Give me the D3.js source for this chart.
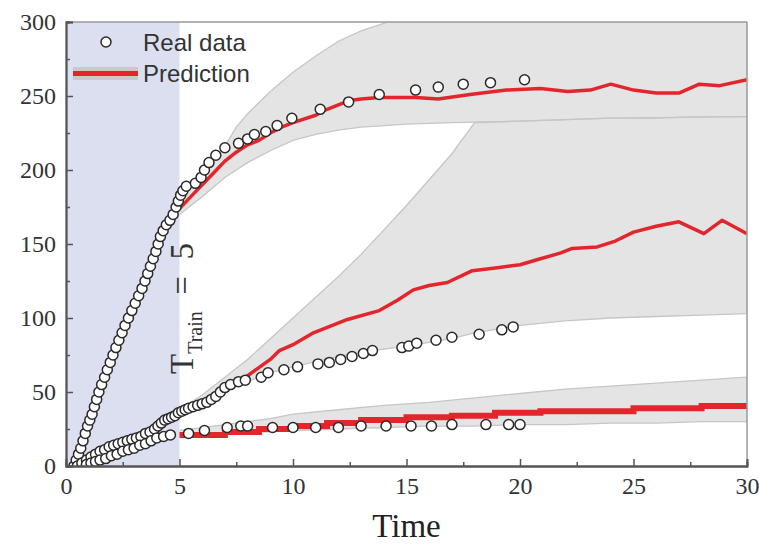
<!DOCTYPE html>
<html><head><meta charset="utf-8">
<script src="https://cdn.jsdelivr.net/npm/d3@7"></script>
<style>html,body{margin:0;padding:0;background:#fff;}svg{display:block;}</style>
</head><body><svg id="c" width="759" height="547"></svg>
<script>
// ---------------- data ----------------
const xTicks = [0,5,10,15,20,25,30];
const yTicks = [0,50,100,150,200,250,300];
const trainEnd = 5;

// Real data (t, value)
const realA = [[0.35,0],[0.45,4],[0.55,8],[0.65,12],[0.75,17],[0.85,22],[0.95,27],[1.05,31],[1.15,35],[1.25,40],[1.35,45],[1.45,50],[1.57,55],[1.7,60],[1.82,65],[1.95,70],[2.07,75],[2.2,80],[2.33,85],[2.47,90],[2.6,95],[2.75,100],[2.9,105],[3.05,110],[3.2,115],[3.35,120],[3.48,125],[3.6,130],[3.72,135],[3.84,140],[3.96,145],[4.06,150],[4.16,155],[4.28,159],[4.42,163],[4.58,166],[4.72,170],[4.85,175],[4.95,179],[5.05,183],[5.15,186],[5.3,189],[5.7,191],[5.95,195],[6.1,200],[6.3,205],[6.6,210],[7.0,215],[7.6,218],[8.0,221],[8.3,224],[8.8,226],[9.3,230],[9.95,235],[11.2,241],[12.45,246],[13.8,251],[15.4,254],[16.4,256],[17.5,258],[18.7,259],[20.2,261]];
const realB = [[0.5,0],[0.7,2],[0.9,4],[1.1,6],[1.3,8],[1.5,10],[1.7,11],[1.9,13],[2.1,14],[2.3,15],[2.5,16],[2.7,17],[2.9,18],[3.1,19],[3.3,20],[3.5,22],[3.7,23],[3.9,25],[4.05,27],[4.2,29],[4.35,31],[4.5,32],[4.65,33],[4.8,34],[4.95,36],[5.1,37],[5.25,38],[5.4,39],[5.6,40],[5.8,41],[6.0,42],[6.2,43],[6.4,45],[6.6,47],[6.8,50],[7.0,53],[7.25,55],[7.6,57],[7.9,58],[8.6,60],[8.9,63],[9.6,65],[10.2,67],[11.1,69],[11.6,70],[12.1,72],[12.6,74],[13.1,76],[13.5,78],[14.8,80],[15.1,81],[15.45,83],[16.3,85],[17.0,87],[18.2,89],[19.2,92],[19.7,94]];
const realC = [[0.9,1],[1.1,2],[1.3,3],[1.5,4],[1.75,5],[2.0,7],[2.25,8],[2.5,10],[2.75,11],[3.0,12],[3.25,14],[3.5,15],[3.75,17],[4.0,19],[4.3,20],[4.6,21],[5.4,22],[6.1,24],[7.1,26],[7.7,27],[8.0,27],[9.1,26],[10.0,26],[11.0,26],[12.0,26],[13.0,27],[14.1,27],[15.2,27],[16.1,27],[17.0,28],[18.5,28],[19.5,28],[20.0,28]];

// Predictions
const predA = [[5,174],[5.5,182],[6,190],[6.5,198],[7,206],[7.5,212],[8,217],[8.5,220],[9,225],[9.5,229],[10,232],[11,237],[11.5,241],[12,244],[12.5,247],[13,248],[13.8,249],[15.4,249],[16.4,248],[17.8,251],[19.4,254],[20.9,255],[22.1,253],[23.1,254],[24,258],[25,254],[26,252],[27,252],[27.9,258],[28.8,257],[30,261]];
const predB = [[5,37],[6,43],[7,51],[8,61],[9,72],[9.4,78],[10,82],[10.9,90],[12.4,99],[13.8,105],[14.6,112],[15.3,119],[16,122],[16.8,124],[17.9,132],[19,134],[20,136],[20.9,140],[21.8,144],[22.3,147],[23.4,148],[24.2,152],[25,158],[26,162],[27,165],[28.1,157],[28.9,166],[30,157]];
const predC = [[5,21],[7,23],[8.5,25],[10,27],[11.5,29],[13,31],[15,33],[17,34],[18.9,36],[20.9,37],[25,39],[28,40.5],[30,40.5]];

// Uncertainty bands [t, lower, upper]
const bandA = [[5,170,182],[6,182,198],[7,195,216],[7.5,200,229],[8,205,238],[9,213,253],[10,220,266],[11,224,277],[12,227,287],[13,229,294],[14,230,299],[15,231,304],[17,232,313],[20,233,325],[24,235,335],[30,236,345]];
const bandB = [[5,36,38],[6,42,48],[7,50,60],[8,57,72],[9,63,86],[10,67,100],[12,74,128],[13,77,143],[15,81,176],[17,86,211],[18,90,232],[20,95,233],[22,98,234],[24,100,235],[26,101,235],[28,102,236],[30,103,236]];
const bandC = [[5,21,24],[6,22,26],[7,22,28],[8,23,30],[9,23,32],[10,24,35],[12,25,38],[14,26,41],[16,27,43],[18,27,46],[20,28,49],[22,28,52],[24,29,54],[26,29,56],[28,30,58],[30,30,60]];

// ---------------- chart ----------------
const svg = d3.select('#c');
const x = d3.scaleLinear().domain([0,30]).range([66,747]);
const y = d3.scaleLinear().domain([0,300]).range([466,22]);

svg.append('defs').append('clipPath').attr('id','plot')
  .append('rect').attr('x',66).attr('y',22).attr('width',681).attr('height',444);
const g = svg.append('g').attr('clip-path','url(#plot)');

// training region
g.append('rect').attr('x',x(0)).attr('y',y(300)).attr('width',x(trainEnd)-x(0)).attr('height',y(0)-y(300)).attr('fill','#dcdff0');

const area = d3.area().x(d=>x(d[0])).y0(d=>y(d[1])).y1(d=>y(d[2]));
[bandC,bandB,bandA].forEach(b=>{
  g.append('path').datum(b).attr('d',area).attr('fill','#e4e4e4');
});
const edgeLo = d3.line().x(d=>x(d[0])).y(d=>y(d[1]));
const edgeHi = d3.line().x(d=>x(d[0])).y(d=>y(d[2]));
[bandC,bandB,bandA].forEach(b=>{
  g.append('path').datum(b).attr('d',edgeLo).attr('fill','none').attr('stroke','#c6c6c6').attr('stroke-width',1.3);
  g.append('path').datum(b).attr('d',edgeHi).attr('fill','none').attr('stroke','#c6c6c6').attr('stroke-width',1.3);
});

const line = d3.line().x(d=>x(d[0])).y(d=>y(d[1]));
g.append('path').datum(predA).attr('d',line).attr('fill','none').attr('stroke','#e3262c').attr('stroke-width',3.5).attr('stroke-linejoin','round');
g.append('path').datum(predB).attr('d',line).attr('fill','none').attr('stroke','#e3262c').attr('stroke-width',3.5).attr('stroke-linejoin','round');
g.append('path').datum(predC).attr('d',line.curve(d3.curveStepAfter)).attr('fill','none').attr('stroke','#e3262c').attr('stroke-width',6);

[realA,realB,realC].forEach(s=>{
  g.selectAll(null).data(s).enter().append('circle')
    .attr('cx',d=>x(d[0])).attr('cy',d=>y(d[1])).attr('r',5)
    .attr('fill','#fff').attr('stroke','#2a2a2a').attr('stroke-width',1.5);
});

// frame
svg.append('line').attr('x1',66).attr('x2',747).attr('y1',22).attr('y2',22).attr('stroke','#9a9a9a').attr('stroke-width',1.5);
svg.append('line').attr('x1',747).attr('x2',747).attr('y1',22).attr('y2',466).attr('stroke','#9a9a9a').attr('stroke-width',1.5);

// axes
const fontSerif = '"Liberation Serif","Times New Roman",serif';
svg.append('g').attr('transform','translate(66,0)')
  .call(d3.axisLeft(y).tickValues(yTicks).tickSize(-7).tickPadding(10).tickFormat(d3.format('d')));
svg.append('g').attr('transform','translate(66,0)')
  .call(d3.axisLeft(y).tickValues([25,75,125,175,225,275]).tickSize(-4).tickFormat(''));
svg.append('g').attr('transform','translate(0,466)')
  .call(d3.axisBottom(x).tickValues(xTicks).tickSize(-7).tickPadding(11).tickFormat(d3.format('d')));
svg.append('g').attr('transform','translate(0,466)')
  .call(d3.axisBottom(x).tickValues([2.5,7.5,12.5,17.5,22.5,27.5]).tickSize(-4).tickFormat(''));
svg.selectAll('.domain').attr('stroke','#555').attr('stroke-width',1.8);
svg.selectAll('.tick line').attr('stroke','#555').attr('stroke-width',1.5);
svg.selectAll('.tick text').attr('font-family',fontSerif).attr('font-size',24).attr('fill','#333');

svg.append('text').attr('x',(x(0)+x(30))/2).attr('y',537).attr('text-anchor','middle')
  .attr('font-family',fontSerif).attr('font-size',33).attr('fill','#222').text('Time');

// T_Train = 5
const tt = svg.append('text').attr('transform','translate(193,374) rotate(-90)')
  .attr('font-family',fontSerif).attr('font-size',33).attr('fill','#333');
tt.append('tspan').text('T');
tt.append('tspan').attr('font-size',20).attr('dy',9).text('Train');
tt.append('tspan').attr('dy',-9).attr('xml:space','preserve').text('  =  5');

// legend
const fontSans = '"Liberation Sans",Arial,sans-serif';
svg.append('circle').attr('cx',106).attr('cy',42).attr('r',5).attr('fill','#fff').attr('stroke','#2a2a2a').attr('stroke-width',1.5);
svg.append('text').attr('x',143).attr('y',51).attr('font-family',fontSans).attr('font-size',24).attr('fill','#333').text('Real data');
svg.append('rect').attr('x',73).attr('y',67).attr('width',65).attr('height',13).attr('fill','#c9c9c9');
svg.append('line').attr('x1',73).attr('x2',138).attr('y1',73.5).attr('y2',73.5).attr('stroke','#e3262c').attr('stroke-width',5);
svg.append('text').attr('x',143).attr('y',82).attr('font-family',fontSans).attr('font-size',24).attr('fill','#333').text('Prediction');
</script></body></html>
